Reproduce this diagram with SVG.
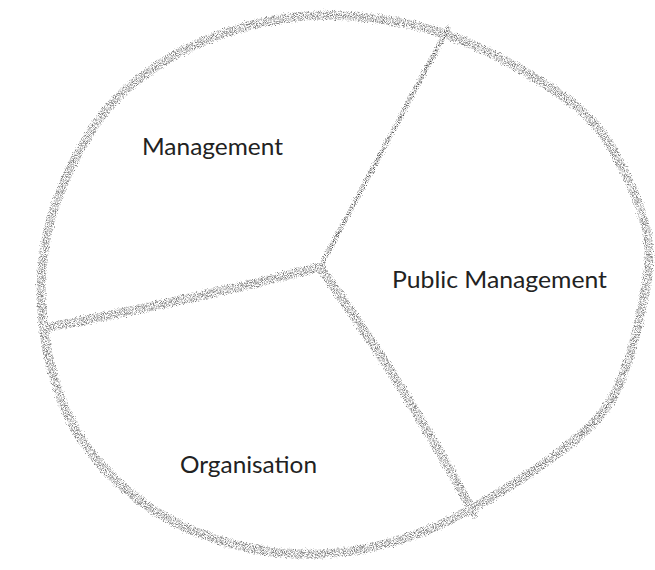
<svg xmlns="http://www.w3.org/2000/svg" width="655" height="570" viewBox="0 0 655 570">
<defs>
<filter id="pencil" x="-5%" y="-5%" width="110%" height="110%">
<feTurbulence type="fractalNoise" baseFrequency="1.1" numOctaves="2" seed="5" result="n"/>
<feColorMatrix in="n" type="matrix" values="0 0 0 0 0  0 0 0 0 0  0 0 0 0 0  3 0 0 0 -1.15" result="m"/>
<feDisplacementMap in="SourceGraphic" in2="n" scale="6" xChannelSelector="G" yChannelSelector="B" result="d"/>
<feComposite in="d" in2="m" operator="in"/>
</filter>
<style>
.soft{fill:none;stroke:#808080;stroke-width:9;stroke-linecap:round;stroke-linejoin:round}
.core{fill:none;stroke:#555;stroke-width:2.5;stroke-linecap:round}
.lbl{font-family:Lato,"Open Sans","Liberation Sans",sans-serif;font-size:24px;font-weight:400;fill:#222}
</style>
</defs>
<g id="connectors" filter="url(#pencil)">
<path class="soft" d="M375,18.5 Q420,24 453.5,37 Q487,50 520,69 Q553,88 576.5,106.5 Q600,125 618.5,160 Q637,195 644.5,222.5 Q652,250 647,280 Q642,310 635,337.5 Q628,365 616.5,390 Q605,415 576.5,438.5 Q548,462 514,483.5 Q480,505 450,520 Q420,535 385,544 Q350,553 320,554 Q290,555 260,550 Q230,545 200,533.5 Q170,522 144,503.5 Q118,485 99,462.5 Q80,440 69,417.5 Q58,395 50.5,365 Q43,335 41.5,305 Q40,275 45,245 Q50,215 64,182.5 Q78,150 95,125 Q112,100 136,81 Q160,62 187.5,48.5 Q215,35 242.5,27.5 Q270,20 300,16.5 Q330,13 375,18.5 Z"/>
<path class="core" d="M616.5,390 Q605,415 576.5,438.5 Q548,462 514,483.5" opacity="0.6"/>
<path class="soft" d="M448,28 L320,267" style="stroke-width:5"/>
<path class="core" d="M446,32 L326,256"/>
<path class="soft" d="M320,267 Q200,298 45,328"/>
<path class="soft" d="M320,267 C350,310 405,385 474,514"/>
</g>
<g id="management"><text class="lbl" x="142" y="155" textLength="141" lengthAdjust="spacingAndGlyphs">Management</text></g>
<g id="public-management"><text class="lbl" x="392" y="288" textLength="215" lengthAdjust="spacingAndGlyphs">Public Management</text></g>
<g id="organisation"><text class="lbl" x="180" y="473" textLength="137" lengthAdjust="spacingAndGlyphs">Organisation</text></g>
</svg>
